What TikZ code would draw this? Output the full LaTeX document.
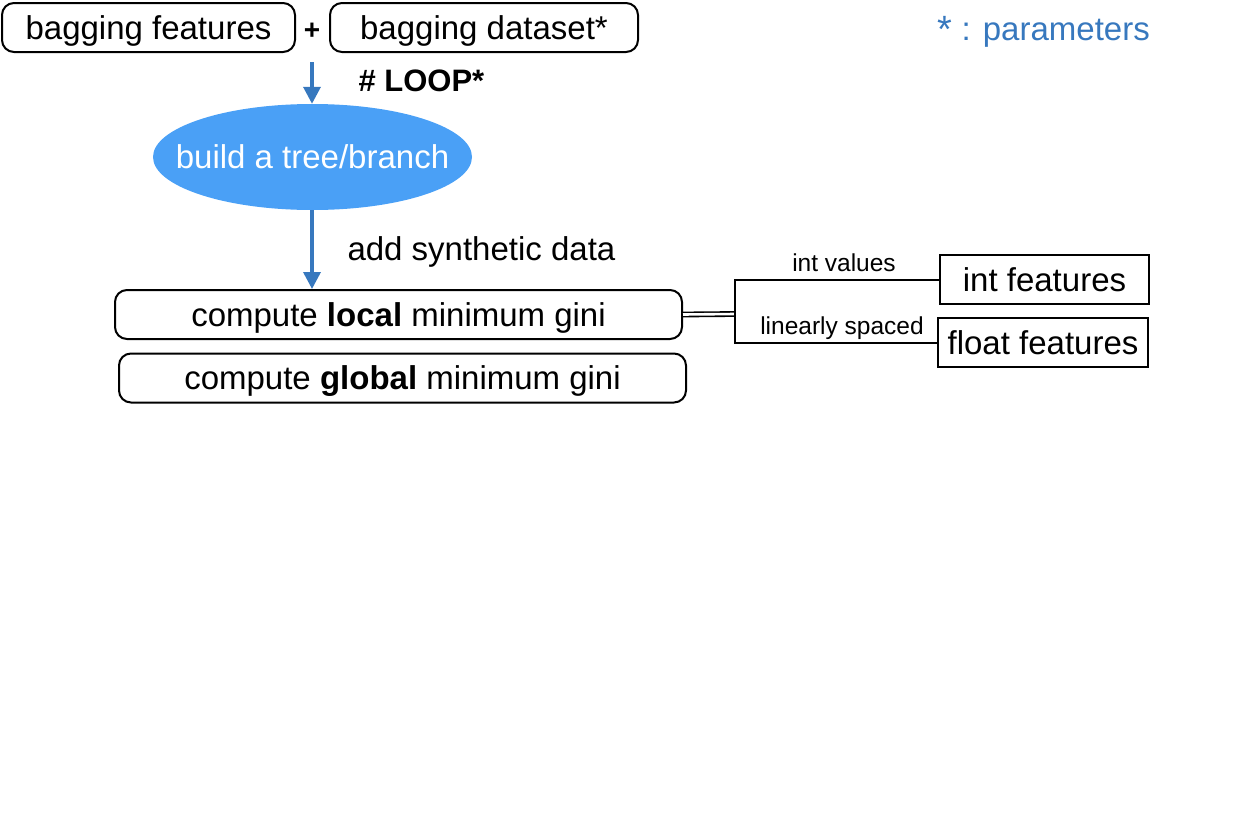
\documentclass[tikz,border=0pt]{standalone}
\usepackage{fontspec}
\setmainfont{Liberation Sans}
\usetikzlibrary{shapes.geometric,calc,arrows.meta}

\definecolor{flowblue}{RGB}{55,120,190}
\definecolor{treeblue}{RGB}{74,160,246}

\begin{document}
\begin{tikzpicture}[x=1pt,y=-1pt,
  txt/.style={font=\fontsize{33}{38}\selectfont,text height=23.6pt,text depth=0pt},
  box/.style={txt,draw,line width=2pt,rounded corners=12pt,minimum height=49pt},
  featbox/.style={txt,draw,line width=2pt,minimum height=49pt},
  flow/.style={-{Triangle[width=17pt,length=17pt]},line width=3.5pt,flowblue},
  lbl/.style={txt,anchor=west},
  small/.style={font=\fontsize{24.5}{28}\selectfont,text height=17.6pt,text depth=0pt}
]
  \useasboundingbox (0,0) rectangle (1258,819);

  \node[box,minimum width=293pt] (bfeat) at (148.5,27.5) {bagging features};
  \node[box,minimum width=308pt] (bdata) at (484,27.5) {bagging dataset*};
  \node[font=\bfseries\fontsize{28}{30}\selectfont] (plus) at (312,31) {+};
  \node[lbl,flowblue] (params) at (934,29)
    {{\fontsize{38}{40}\selectfont\raisebox{-2pt}{*}} : parameters};

  \coordinate (loopstart) at (312,62);
  \node[
    ellipse,
    fill=treeblue,
    inner xsep=-24pt,
    minimum width=319pt,
    minimum height=106pt,
    text=white,
    txt
  ] (tree) at (312.5,157) {build a tree/branch};
  \draw[flow] (loopstart) -- (loopstart |- tree.north);
  \node[lbl,font=\bfseries\fontsize{31}{36}\selectfont,text height=22.3pt] (loop)
    at (355,80) {\# LOOP*};

  \node[box,minimum width=567pt] (local) at (398.5,314.5)
    {compute \textbf{local} minimum gini};
  \node[box,minimum width=567pt] (global) at (402.5,378)
    {compute \textbf{global} minimum gini};
  \draw[flow] (loopstart |- tree.south) -- (loopstart |- local.north);
  \node[lbl] (synth) at (344,248.5) {add synthetic data};

  \node[featbox,minimum width=209pt] (intf) at (1044.5,279.5) {int features};
  \node[featbox,minimum width=210pt] (floatf) at (1043,342.5) {float features};

  % split of the feature types
  \coordinate (split) at (735,314);
  \draw[double,double distance=2.6pt,line width=1.6pt] (local.east) -- (split);
  \draw[line width=2pt] (intf.west)
    -- node[small,above=4pt,xshift=7pt] (intlbl) {int values} (intf.west -| split)
    -- (floatf.west -| split)
    -- node[small,above=4pt,xshift=6pt] (linlbl) {linearly spaced} (floatf.west);
\end{tikzpicture}
\end{document}
